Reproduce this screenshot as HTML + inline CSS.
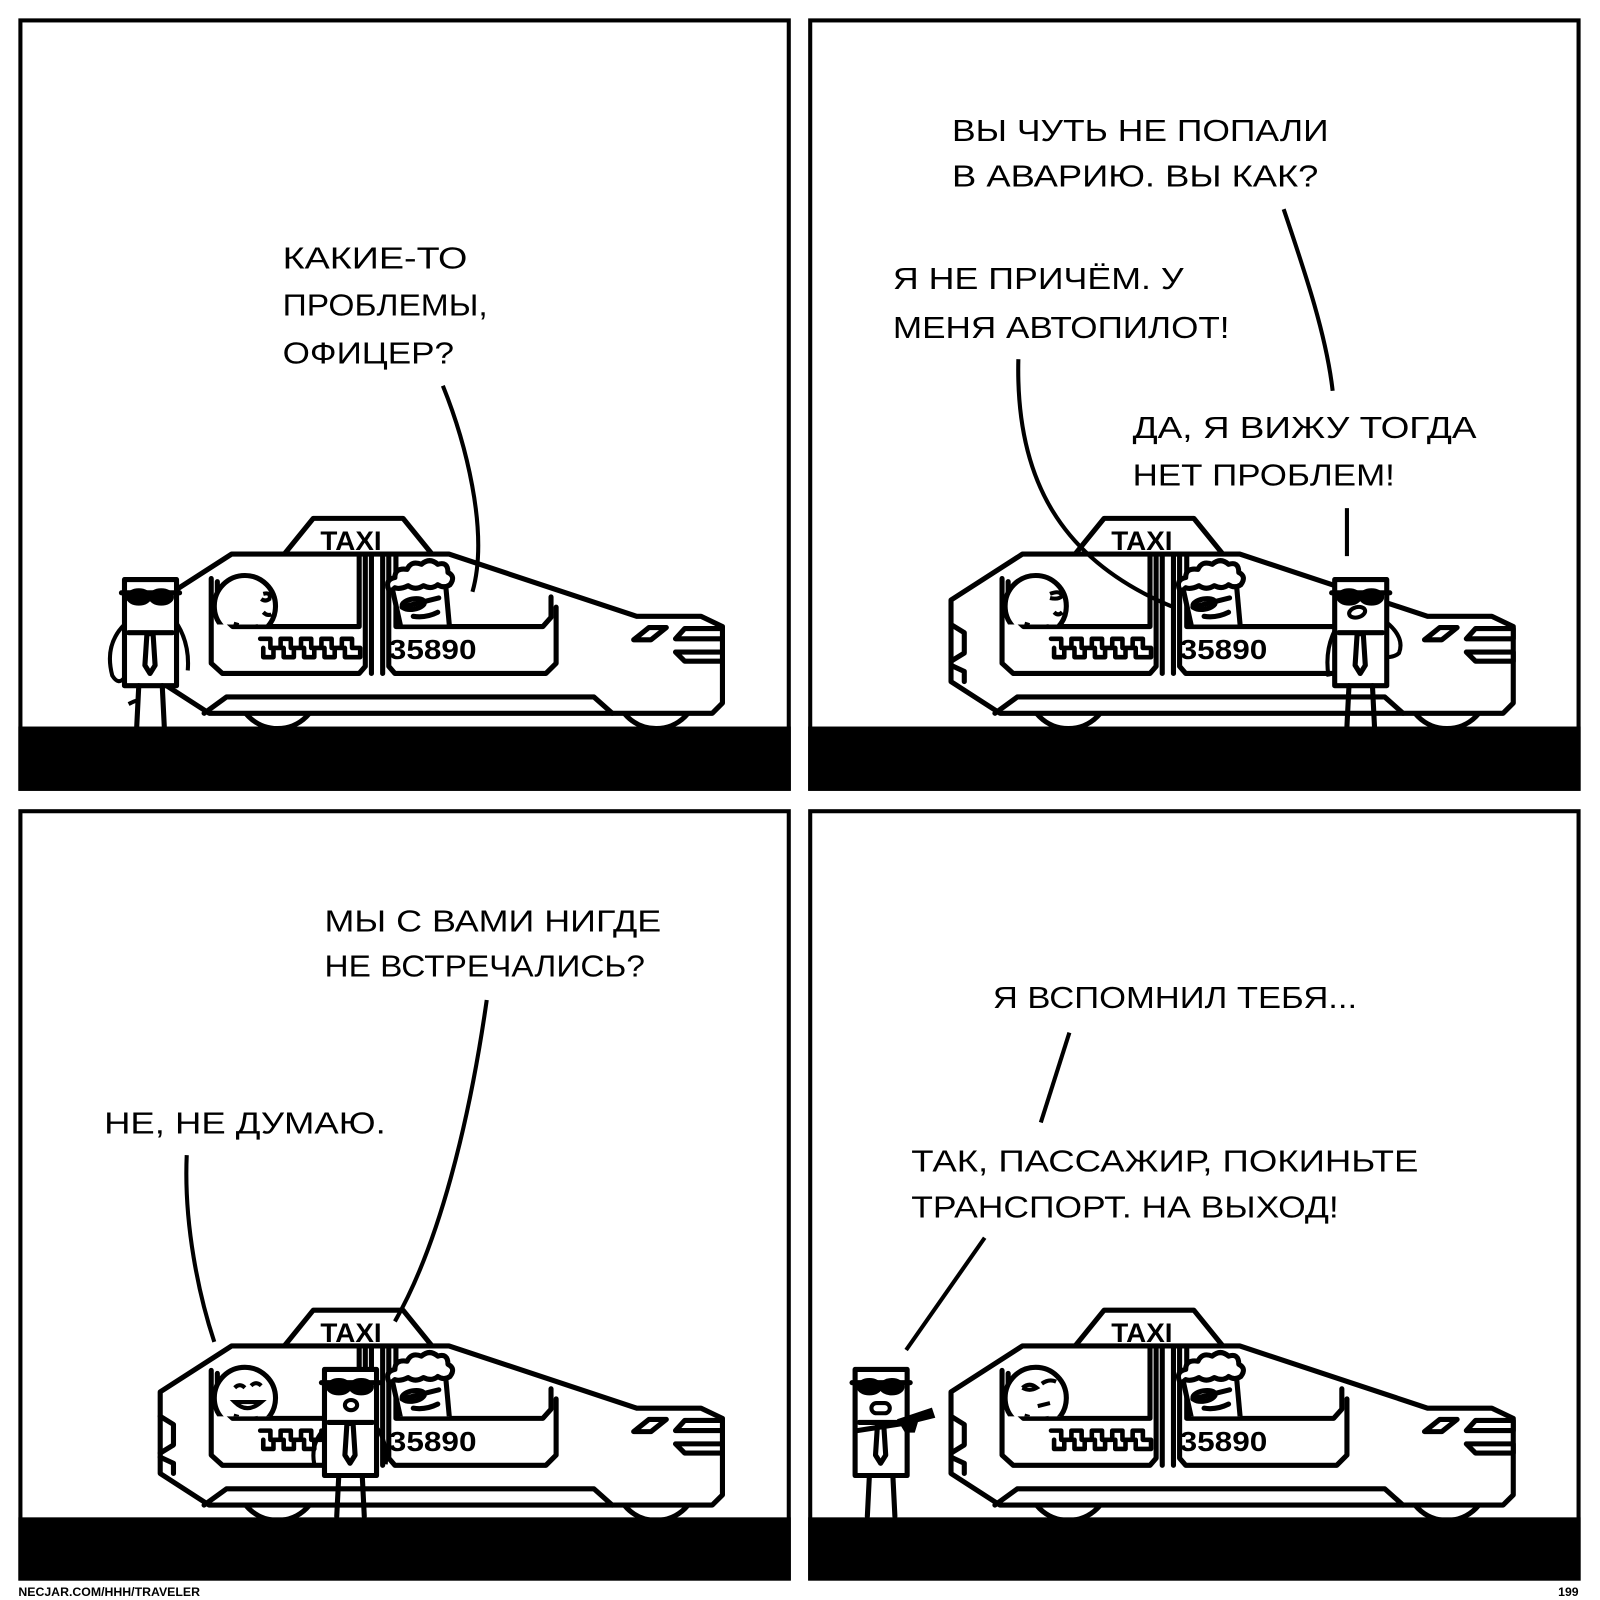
<!DOCTYPE html>
<html><head><meta charset="utf-8"><style>
html,body{margin:0;padding:0;background:#fff;}
svg{display:block;}
.t{font-family:"Liberation Sans","DejaVu Sans",sans-serif;font-size:30px;fill:#000;}
</style></head><body>
<svg width="1600" height="1600" viewBox="0 0 1568 1568" xmlns="http://www.w3.org/2000/svg">
<defs>
<clipPath id="win"><rect x="150" y="500" width="400" height="112"/></clipPath>
<g id="car" stroke="#000" stroke-width="5" stroke-linejoin="round" stroke-linecap="round">
  <circle cx="272" cy="674" r="40" fill="#fff"/>
  <circle cx="643" cy="674" r="40" fill="#fff"/>
  <polygon points="277,545 307,508 395,508 425,545" fill="#fff"/>
  <text x="314" y="539" font-family="Liberation Sans,sans-serif" font-weight="bold" font-size="26" textLength="60" lengthAdjust="spacingAndGlyphs" stroke="none" fill="#000">TAXI</text>
  <polygon points="227,543 440,543 624,604 687,604 708,614 708,689 698,699 205,699 157,668 157,588" fill="#fff"/>
  <polyline points="200,699 222,683 582,683 600,699" fill="none"/>
  <polyline points="157,612 170,620 170,640 157,648" fill="none"/>
  <polyline points="157,652 170,658 170,668" fill="none"/>
  <path d="M207,567 L207,650 L218,660 L352,660 L358,653 L358,545 M364,545 L364,660 M375,545 L375,660 M381,545 L381,653 L387,660 L535,660 L545,650 L545,595" fill="none"/>
  <polyline points="213,570 213,600 228,614 352,614 352,545" fill="none"/>
  <polyline points="388,545 388,614 532,614 540,605 540,585" fill="none"/>
  <polygon points="621,627 636,615 653,615 638,627" fill="#fff"/>
  <polygon points="708,616 671,616 662,626 708,626" fill="#fff"/>
  <polygon points="708,639 662,639 671,648 708,648" fill="#fff"/>
  <path d="M255,626 h10 v9 h10 v-9 h10 v9 h10 v-9 h10 v9 h10 v-9 h10 v9 h10 v-9 h10 v9 h8 M258,635 v9 h10 v-9 M278,635 v9 h10 v-9 M298,635 v9 h10 v-9 M318,635 v9 h10 v-9 M338,635 v9 h15 v-9" fill="none" stroke-width="4.5"/>
  <text x="381" y="646" font-family="Liberation Sans,sans-serif" font-weight="bold" font-size="27" textLength="86" lengthAdjust="spacingAndGlyphs" stroke="none" fill="#000">35890</text>
</g>
<g id="cop" stroke="#000" stroke-width="5" stroke-linecap="round" stroke-linejoin="round">
  <rect x="0" y="0" width="51" height="104" fill="#fff"/>
  <line x1="-3" y1="13" x2="54" y2="13"/>
  <ellipse cx="14" cy="17" rx="10" ry="6" fill="#000"/>
  <ellipse cx="36" cy="17" rx="10" ry="6" fill="#000"/>
  <line x1="4" y1="52" x2="47" y2="52"/>
  <polygon points="22,53 28,53 30,84 25,92 20,84" fill="#fff"/>
  <line x1="14" y1="104" x2="12" y2="144"/>
  <line x1="37" y1="104" x2="39" y2="144"/>
</g>
<g id="pass" stroke="#000" stroke-width="5" fill="#fff" clip-path="url(#win)">
  <circle cx="240" cy="594" r="30"/>
  <path d="M228,624 L232,610 M252,624 L250,612" fill="none"/>
</g>
<g id="drv" stroke="#000" stroke-width="5" stroke-linejoin="round" stroke-linecap="round" clip-path="url(#win)">
  <polygon points="384,575 436,565 441,620 394,620" fill="#fff"/>
  <path d="M381,578 q-4,-10 6,-12 q0,-10 12,-8 q4,-9 14,-5 q8,-7 16,0 q10,-3 10,8 q8,4 2,12 q-6,4 -12,0 q-6,5 -14,1 q-8,5 -15,0 q-8,4 -13,2 q-4,4 -6,2z" fill="#fff"/>
  <ellipse cx="405" cy="592" rx="11" ry="5" fill="none" transform="rotate(-10 405 592)"/>
  <path d="M394,595 L430,586 M405,604 q12,2 24,-4" fill="none"/>
</g>
</defs>

<g stroke="#000" stroke-width="4" fill="none">
<rect x="20" y="20" width="753" height="753"/>
<rect x="794" y="20" width="753" height="753"/>
<rect x="20" y="795" width="753" height="752"/>
<rect x="794" y="795" width="753" height="752"/>
</g>

<!-- PANEL 1 -->
<use href="#car"/>
<use href="#pass"/>
<path d="M258,582 q8,-2 6,5 q-4,3 -8,0 M258,600 q4,4 8,2" stroke="#000" stroke-width="4" fill="none"/>
<use href="#drv"/>
<use href="#cop" x="122" y="568"/>
<path d="M122,612 q-20,20 -12,50 q6,10 12,2 M174,612 q12,20 10,45" stroke="#000" stroke-width="4" fill="none"/>
<path d="M126,690 q8,-4 10,-4" stroke="#000" stroke-width="4" fill="none"/>
<rect x="18" y="712" width="757" height="63" fill="#000"/>
<path d="M434,378 C455,430 480,520 463,580" stroke="#000" stroke-width="4" fill="none"/>
<text class="t" x="277" y="263" textLength="181" lengthAdjust="spacingAndGlyphs">КАКИЕ-ТО</text>
<text class="t" x="277" y="309" textLength="201" lengthAdjust="spacingAndGlyphs">ПРОБЛЕМЫ,</text>
<text class="t" x="277" y="356" textLength="168" lengthAdjust="spacingAndGlyphs">ОФИЦЕР?</text>

<!-- PANEL 2 -->
<g transform="translate(775,0)">
<use href="#car"/>
<use href="#pass"/>
<path d="M254,582 q10,-4 12,2 q-4,4 -12,2 M258,600 q4,4 8,0" stroke="#000" stroke-width="4" fill="none"/>
<use href="#drv"/>
</g>
<use href="#cop" x="1308" y="568"/>
<ellipse cx="1330" cy="600" rx="8" ry="5" stroke="#000" stroke-width="4" fill="#fff" transform="rotate(-15 1330 600)"/>
<path d="M1308,618 q-10,20 -6,45 M1359,610 q18,15 12,30 q-4,4 -12,4" stroke="#000" stroke-width="4" fill="none"/>
<rect x="792" y="712" width="757" height="63" fill="#000"/>
<path d="M1258,205 C1280,270 1300,330 1306,383" stroke="#000" stroke-width="4" fill="none"/>
<path d="M998,352 C995,470 1040,550 1150,595" stroke="#000" stroke-width="4" fill="none"/>
<path d="M1320,498 L1320,545" stroke="#000" stroke-width="4" fill="none"/>
<text class="t" x="933" y="138" textLength="369" lengthAdjust="spacingAndGlyphs">ВЫ ЧУТЬ НЕ ПОПАЛИ</text>
<text class="t" x="933" y="183" textLength="359" lengthAdjust="spacingAndGlyphs">В АВАРИЮ. ВЫ КАК?</text>
<text class="t" x="875" y="283" textLength="285" lengthAdjust="spacingAndGlyphs">Я НЕ ПРИЧЁМ. У</text>
<text class="t" x="875" y="331" textLength="330" lengthAdjust="spacingAndGlyphs">МЕНЯ АВТОПИЛОТ!</text>
<text class="t" x="1110" y="429" textLength="337" lengthAdjust="spacingAndGlyphs">ДА, Я ВИЖУ ТОГДА</text>
<text class="t" x="1110" y="476" textLength="257" lengthAdjust="spacingAndGlyphs">НЕТ ПРОБЛЕМ!</text>

<!-- PANEL 3 -->
<g transform="translate(0,776)">
<use href="#car"/>
<use href="#pass"/>
<path d="M230,584 q5,-5 10,0 M246,582 q5,-5 10,0 M230,598 q12,12 26,0 z" stroke="#000" stroke-width="4" fill="none"/>
<use href="#drv"/>
</g>
<use href="#cop" x="318" y="1342"/>
<ellipse cx="344" cy="1377" rx="6" ry="5" stroke="#000" stroke-width="4" fill="#fff"/>
<path d="M318,1400 q-14,15 -10,35 M370,1400 q10,15 8,35" stroke="#000" stroke-width="4" fill="none"/>
<rect x="18" y="1487" width="757" height="62" fill="#000"/>
<path d="M477,980 C460,1100 430,1220 387,1295" stroke="#000" stroke-width="4" fill="none"/>
<path d="M183,1132 C180,1200 195,1270 210,1315" stroke="#000" stroke-width="4" fill="none"/>
<text class="t" x="318" y="913" textLength="330" lengthAdjust="spacingAndGlyphs">МЫ С ВАМИ НИГДЕ</text>
<text class="t" x="318" y="957" textLength="314" lengthAdjust="spacingAndGlyphs">НЕ ВСТРЕЧАЛИСЬ?</text>
<text class="t" x="102" y="1111" textLength="276" lengthAdjust="spacingAndGlyphs">НЕ, НЕ ДУМАЮ.</text>

<!-- PANEL 4 -->
<g transform="translate(775,776)">
<use href="#car"/>
<use href="#pass"/>
<path d="M227,584 q7,-6 14,0 q-7,4 -14,0 M246,580 q7,-5 14,-2 M242,602 l12,-3" stroke="#000" stroke-width="4" fill="none"/>
<use href="#drv"/>
</g>
<use href="#cop" x="838" y="1342"/>
<rect x="854" y="1375" width="18" height="10" rx="5" stroke="#000" stroke-width="4" fill="#fff"/>
<path d="M840,1402 L885,1395" stroke="#000" stroke-width="5" fill="none"/>
<path d="M882,1392 L912,1382 L914,1388 L898,1392 L895,1402 L888,1402 Z" fill="#000" stroke="#000" stroke-width="4"/>
<rect x="792" y="1487" width="757" height="62" fill="#000"/>
<path d="M1048,1012 L1020,1100" stroke="#000" stroke-width="4" fill="none"/>
<path d="M965,1213 L888,1323" stroke="#000" stroke-width="4" fill="none"/>
<text class="t" x="973" y="988" textLength="357" lengthAdjust="spacingAndGlyphs">Я ВСПОМНИЛ ТЕБЯ...</text>
<text class="t" x="893" y="1148" textLength="497" lengthAdjust="spacingAndGlyphs">ТАК, ПАССАЖИР, ПОКИНЬТЕ</text>
<text class="t" x="893" y="1193" textLength="419" lengthAdjust="spacingAndGlyphs">ТРАНСПОРТ. НА ВЫХОД!</text>

<text x="18" y="1564" font-family="Liberation Sans,sans-serif" font-size="12" font-weight="bold" textLength="178" lengthAdjust="spacingAndGlyphs">NECJAR.COM/HHH/TRAVELER</text>
<text x="1527" y="1564" font-family="Liberation Sans,sans-serif" font-size="12" font-weight="bold">199</text>
</svg>
</body></html>
